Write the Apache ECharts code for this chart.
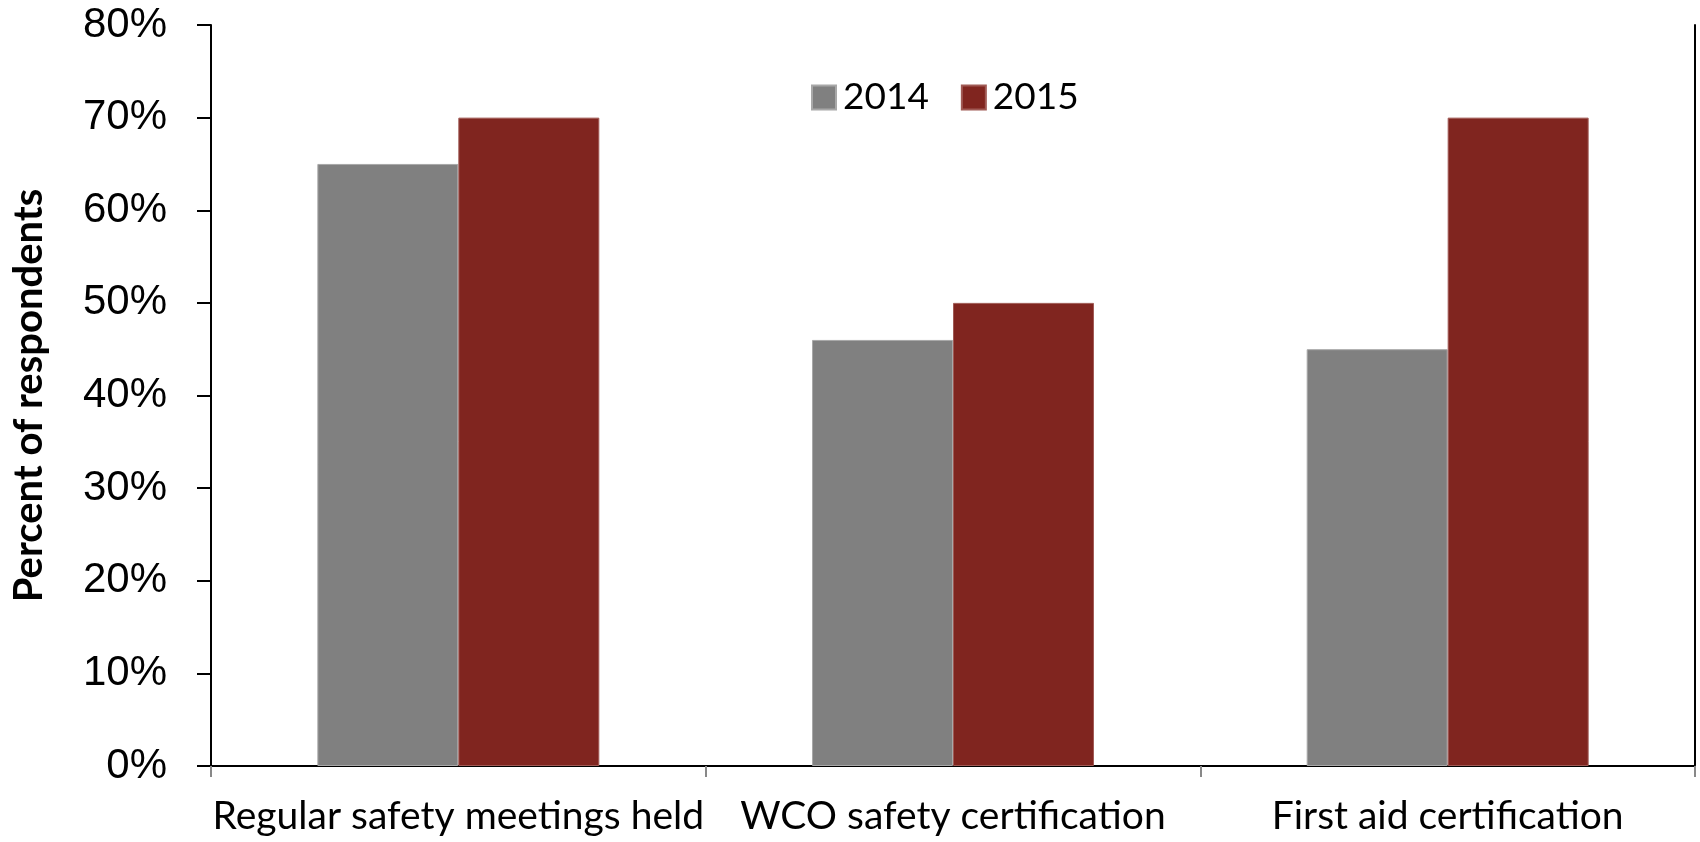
<!DOCTYPE html>
<html>
<head>
<meta charset="utf-8">
<script src="https://cdn.jsdelivr.net/npm/echarts@6/dist/echarts.min.js"></script>
<style>
html,body{margin:0;padding:0;background:#fff;}
#chart{width:1700px;height:842px;}
</style>
</head>
<body>
<div id="chart"></div>
<script>
const categories = ['Regular safety meetings held', 'WCO safety certification', 'First aid certification'];
const series2014 = [65, 46, 45];
const series2015 = [70, 50, 70];
const seriesNames = ['2014', '2015'];
const yTitle = 'Percent of respondents';

const chart = echarts.init(document.getElementById('chart'), null, {renderer: 'canvas'});
const option = {
  animation: false,
  backgroundColor: '#fff',
  grid: {left: 211, right: 5, top: 25, bottom: 76, containLabel: false},
  legend: {
    data: seriesNames,
    left: 806,
    top: 74,
    itemWidth: 24,
    itemHeight: 24,
    itemGap: 32,
    icon: 'rect',
    textStyle: {fontFamily: 'Lato', fontSize: 37, color: '#000', padding: [0, 0, 0, 2]}
  },
  xAxis: [{
    type: 'category',
    data: categories,
    axisLine: {lineStyle: {color: '#888', width: 2}},
    axisTick: {show: true, length: 11, lineStyle: {color: '#888', width: 2}},
    axisLabel: {fontFamily: 'Lato', fontSize: 39, color: '#000', margin: 31, interval: 0}
  }, {
    type: 'category',
    position: 'top',
    data: categories,
    axisLine: {lineStyle: {color: '#000', width: 2}},
    axisTick: {show: false},
    axisLabel: {show: false}
  }],
  yAxis: [{
    type: 'value',
    min: 0,
    max: 80,
    interval: 10,
    name: yTitle,
    nameLocation: 'middle',
    nameGap: 162,
    nameTextStyle: {fontFamily: 'Lato', fontWeight: 'bold', fontSize: 40, color: '#000'},
    axisLine: {show: true, lineStyle: {color: '#000', width: 2}},
    axisTick: {show: true, length: 14, lineStyle: {color: '#000', width: 2}},
    axisLabel: {formatter: '{value}%', fontFamily: 'Liberation Sans', fontSize: 42, color: '#000', margin: 44},
    splitLine: {show: false}
  }, {
    type: 'value',
    position: 'right',
    min: 0,
    max: 80,
    interval: 10,
    axisLine: {show: true, lineStyle: {color: '#000', width: 2}},
    axisTick: {show: false},
    axisLabel: {show: false},
    splitLine: {show: false}
  }],
  series: [{
    name: seriesNames[0],
    type: 'bar',
    data: series2014,
    barGap: '0%',
    barCategoryGap: '43%',
    itemStyle: {color: '#808080', borderColor: '#a8a8a8', borderWidth: 1}
  }, {
    name: seriesNames[1],
    type: 'bar',
    data: series2015,
    barGap: '0%',
    barCategoryGap: '43%',
    itemStyle: {color: '#80251F', borderColor: '#a05a55', borderWidth: 1}
  }]
};
chart.setOption(option);
</script>
</body>
</html>
